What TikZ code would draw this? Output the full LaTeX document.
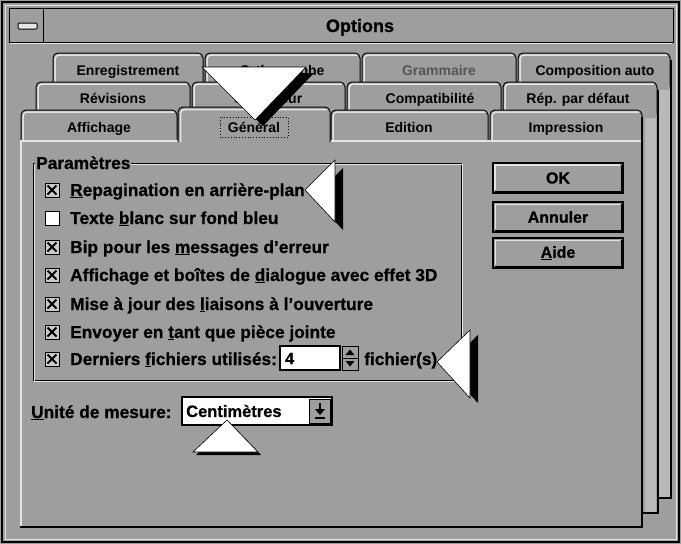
\documentclass[tikz,border=0pt]{standalone}
\usepackage{fontspec}
\setmainfont{Liberation Sans}
\newfontfamily\heavy{Liberation Sans}[Ligatures=TeX, BoldFeatures={FakeBold=0.8}]
\definecolor{bg}{RGB}{158,158,158}
\definecolor{hl}{RGB}{228,228,228}
\definecolor{strip}{RGB}{185,185,185}
\definecolor{dis}{RGB}{85,85,85}
\newcommand{\ak}[1]{\underline{#1}}
\begin{document}
\begin{tikzpicture}[x=1pt,y=-1pt,
  tabtxt/.style={font=\fontsize{14}{14}\selectfont\bfseries, inner sep=0pt, anchor=base},
  opt/.style={font=\heavy\fontsize{17.3}{17.3}\selectfont\bfseries, inner sep=0pt, anchor=base west},
  btn/.style={draw=black, line width=1.5, fill=bg, minimum width=130, minimum height=30, inner sep=0pt,
              font=\heavy\fontsize{16}{16}\selectfont\bfseries},
  chk/.style={draw=black, line width=1, fill=bg!55!white, minimum size=14, inner sep=0pt},
  tabshape/.style={draw=black, line width=1, fill=bg, rounded corners=5},
  tabhl/.style={draw=hl, line width=1.5, rounded corners=4},
  shadow/.style={fill=black},
  pointer/.style={fill=white, draw=black, line width=0.6}]
\fill[bg] (0,0) rectangle (681,544);
\useasboundingbox (0,0) rectangle (681,544);

% window frame and title bar
\draw[black, line width=1.5] (2,2) rectangle (679,542);
\draw[hl, line width=1] (5,5) rectangle (676,539);
\draw[black, line width=1] (9,8) rectangle (673,42);
\draw[hl, line width=1.2] (10,43.5) -- (672,43.5);
\draw[black, line width=1] (43,8) -- (43,42);
\draw[black, fill=hl, line width=1, rounded corners=1] (18,23) rectangle (37,29);
\node[font=\heavy\fontsize{18}{18}\selectfont\bfseries, inner sep=0pt, anchor=base] (title) at (360,32) {Options};

% back page (row 1)
\fill[strip] (659,90) rectangle (670,498);
\draw[black, line width=2] (671,60) -- (671,498) -- (600,498);
\foreach \a/\b/\n in {52/204/a1, 204/361/a2, 361/517/a3, 517/671/a4}{
  \draw[tabshape] (\a+1,86) -- (\a+1,53) -- (\b-1,53) -- (\b-1,86);
  \draw[tabhl] (\a+3,86) -- (\a+3,55) -- (\b-4,55);
}
\node[tabtxt] (t11) at (128,75) {Enregistrement};
\node[tabtxt] (t12) at (282,75) {Orthographe};
\node[tabtxt, text=dis] (t13) at (439,75) {Grammaire};
\node[tabtxt] (t14) at (595,75) {Composition auto};

% middle page (row 2)
\fill[bg] (35,86) rectangle (657,513);
\fill[strip] (645,118) rectangle (656,513);
\draw[black, line width=2] (658,90) -- (658,513) -- (600,513);
\foreach \a/\b in {35/191, 191/346, 346/502, 502/658}{
  \draw[tabshape] (\a+1,114) -- (\a+1,82) -- (\b-1,82) -- (\b-1,114);
  \draw[tabhl] (\a+3,114) -- (\a+3,84) -- (\b-4,84);
}
\node[tabtxt] (t21) at (113,103) {Révisions};
\node[tabtxt] (t22) at (268,103) {Utilisateur};
\node[tabtxt] (t23) at (430,103) {Compatibilité};
\node[tabtxt] (t24) at (578,103) {Rép. par défaut};

% front page (row 3)
\fill[bg] (20,114) rectangle (642,527);
\foreach \a/\b in {20/178, 330/489, 489/643}{
  \draw[tabshape] (\a+1,141) -- (\a+1,110) -- (\b-1,110) -- (\b-1,141);
  \draw[tabhl] (\a+3,141) -- (\a+3,112) -- (\b-4,112);
}
\draw[hl, line width=1.5] (21,527) -- (21,141) -- (178,141);
\draw[hl, line width=1.5] (330,141) -- (641,141);
\draw[black, line width=2.2] (642,117) -- (642,527) -- (20,527);
% active tab
\draw[tabshape] (178,142) -- (178,107) -- (330,107) -- (330,142);
\draw[tabhl] (180.5,142) -- (180.5,109.5) -- (327,109.5);
\node[tabtxt] (t31) at (99,132) {Affichage};
\node[tabtxt] (t32) at (254,132) {Général};
\draw[black, dotted, line width=0.8] (220,117) rectangle (288,137);
\node[tabtxt] (t33) at (409,132) {Edition};
\node[tabtxt] (t34) at (566,132) {Impression};

% group box
\draw[black, line width=1] (33,163) rectangle (461,380);
\draw[hl, line width=1] (34.5,164.5) rectangle (462.5,381.5);
\node[opt, fill=bg, inner sep=1pt] (grp) at (35,169) {Paramètres};

% check boxes
\foreach \y/\n in {190/c1, 247/c3, 275/c4, 304/c5, 332/c6, 359/c7}{
  \node[chk] (\n) at (52,\y) {};
  \draw[black, line width=1.8] ([shift={(3,3)}]\n.north west) -- ([shift={(-3,-3)}]\n.south east);
  \draw[black, line width=1.8] ([shift={(-3,3)}]\n.north east) -- ([shift={(3,-3)}]\n.south west);
}
\node[chk, fill=white] (c2) at (52,218) {};
\node[opt] (o1) at (70,196) {\ak{R}epagination en arrière-plan};
\node[opt] (o2) at (70,224) {Texte \ak{b}lanc sur fond bleu};
\node[opt] (o3) at (70,253) {Bip pour les \ak{m}essages d’erreur};
\node[opt] (o4) at (70,281) {Affichage et boîtes de \ak{d}ialogue avec effet 3D};
\node[opt] (o5) at (70,310) {Mise à jour des \ak{l}iaisons à l’ouverture};
\node[opt] (o6) at (70,338) {Envoyer en \ak{t}ant que pièce jointe};
\node[opt] (o7) at (70,365) {Derniers \ak{f}ichiers utilisés:};

% spin box
\node[draw=black, line width=1.2, fill=white, minimum width=60, minimum height=24, inner sep=0pt] (spin) at (310,358) {};
\node[font=\heavy\fontsize{16}{16}\selectfont\bfseries, inner sep=0pt, anchor=base west] (four) at (285,364) {4};
\node[draw=black, line width=1, fill=bg, minimum width=16, minimum height=24, inner sep=0pt] (spinb) at (350,358) {};
\draw[black, line width=1] (spinb.west) -- (spinb.east);
\fill[black] (345.5,355) -- (354.5,355) -- (350,349.5) -- cycle;
\fill[black] (345.5,361) -- (354.5,361) -- (350,366.5) -- cycle;
\node[opt] (fich) at (364,365) {fichier(s)};

% buttons
\node[btn, line width=2.5] (ok) at (558,178) {OK};
\node[btn] (annuler) at (558,217) {Annuler};
\node[btn] (aide) at (558,253) {\ak{A}ide};
\foreach \n in {ok, annuler, aide}{
  \draw[hl, line width=1.5] ([shift={(3,-4)}]\n.south west) -- ([shift={(3,3)}]\n.north west) -- ([shift={(-4,3)}]\n.north east);
  \draw[black, line width=1.5] ([shift={(3,-2.5)}]\n.south west) -- ([shift={(-2.5,-2.5)}]\n.south east) -- ([shift={(-2.5,3)}]\n.north east);
}

% unit of measure
\node[opt] (unit) at (31,418) {\ak{U}nité de mesure:};
\node[draw=black, line width=1.5, fill=white, minimum width=150, minimum height=28, inner sep=0pt] (combo) at (257,411) {};
\node[draw=black, line width=1, fill=bg, minimum width=21, minimum height=24, inner sep=0pt] (combob) at (320,411) {};
\draw[black, line width=1.5] (320,403) -- (320,410);
\fill[black] (315,409) -- (325,409) -- (320,415) -- cycle;
\draw[black, line width=1.5] (315,418) -- (325,418);
\node[font=\heavy\fontsize{16.5}{16.5}\selectfont\bfseries, inner sep=0pt, anchor=base west] (cm) at (186,417) {Centimètres};

% pointer triangles
\fill[shadow] (210,73) -- (314,73) -- (263,126) -- cycle;
\filldraw[pointer] (202,67) -- (306,67) -- (255,120) -- cycle;
\fill[shadow] (313,198) -- (343,168) -- (343,230) -- cycle;
\filldraw[pointer] (305,190) -- (335,160) -- (335,222) -- cycle;
\fill[shadow] (445,367) -- (478,335) -- (478,403) -- cycle;
\filldraw[pointer] (437,362) -- (470,330) -- (470,398) -- cycle;
\fill[shadow] (230,423) -- (196,455) -- (261,455) -- cycle;
\filldraw[pointer] (227,420) -- (193,452) -- (258,452) -- cycle;
\end{tikzpicture}
\end{document}
